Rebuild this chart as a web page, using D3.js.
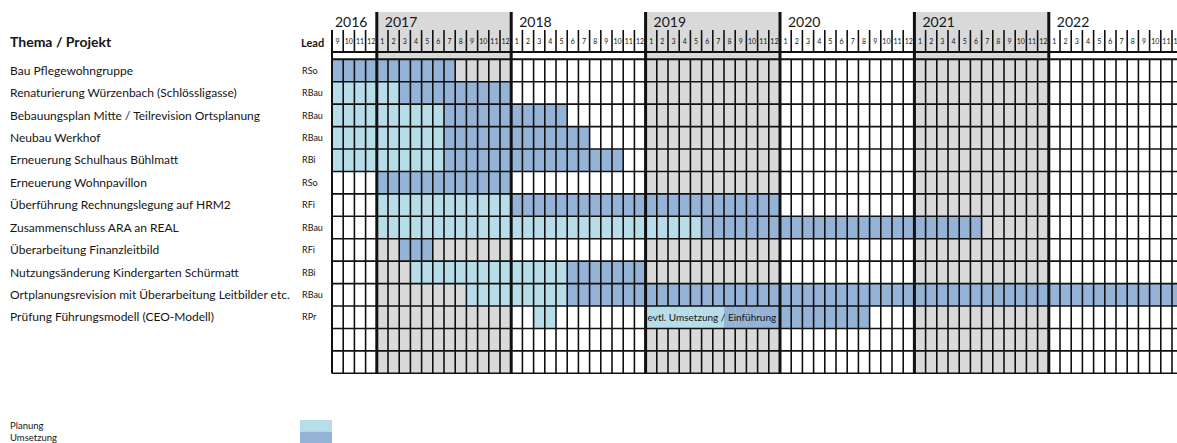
<!DOCTYPE html>
<html>
<head>
<meta charset="utf-8">
<script src="https://cdn.jsdelivr.net/npm/d3@7"></script>
<style>
  body { margin: 0; background: #fff; overflow: hidden; }
  text { font-family: Lato, "Open Sans", sans-serif; fill: #151515; }
</style>
</head>
<body>
<svg id="chart" width="1177" height="443"></svg>
<script>
// --- data ---
var projects = [
  "Bau Pflegewohngruppe",
  "Renaturierung Würzenbach (Schlössligasse)",
  "Bebauungsplan Mitte / Teilrevision Ortsplanung",
  "Neubau Werkhof",
  "Erneuerung Schulhaus Bühlmatt",
  "Erneuerung Wohnpavillon",
  "Überführung Rechnungslegung auf HRM2",
  "Zusammenschluss ARA an REAL",
  "Überarbeitung Finanzleitbild",
  "Nutzungsänderung Kindergarten Schürmatt",
  "Ortplanungsrevision mit Überarbeitung Leitbilder etc.",
  "Prüfung Führungsmodell (CEO-Modell)"
];
var leads = ["RSo", "RBau", "RBau", "RBau", "RBi", "RSo", "RFi", "RBau", "RFi", "RBi", "RBau", "RPr"];
var emptyRows = 2;

var years = [2016, 2017, 2018, 2019, 2020, 2021, 2022];
var shadedYears = [2017, 2019, 2021];
var firstMonth = "2016-09", lastMonth = "2022-12";

// [row, from, to]
var planung = [
  [1, "2016-09", "2017-02"],
  [2, "2016-09", "2017-06"],
  [3, "2016-09", "2017-06"],
  [4, "2016-09", "2017-06"],
  [6, "2017-01", "2017-12"],
  [7, "2017-01", "2019-05"],
  [9, "2017-04", "2018-05"],
  [10, "2017-09", "2018-05"],
  [11, "2018-03", "2018-04"],
  [11, "2019-01", "2019-07"]
];
var umsetzung = [
  [0, "2016-09", "2017-07"],
  [1, "2017-03", "2017-12"],
  [2, "2017-07", "2018-05"],
  [3, "2017-07", "2018-07"],
  [4, "2017-07", "2018-10"],
  [5, "2017-01", "2017-12"],
  [6, "2018-01", "2019-12"],
  [7, "2019-06", "2021-06"],
  [8, "2017-03", "2017-05"],
  [9, "2018-06", "2018-12"],
  [10, "2018-06", "2022-12"],
  [11, "2019-08", "2020-08"]
];
// merged cell with note: [row, from, to, text]
var notes = [[11, "2019-01", "2019-12", "evtl. Umsetzung / Einführung"]];

var legendLabels = ["Planung", "Umsetzung"];
var colors = { plan: "#b7dee8", ums: "#95b3d7", grey: "#d9d9d9", white: "#ffffff" };

// --- layout ---
var svg = d3.select("#chart");
var parse = d3.timeParse("%Y-%m");
var fmt = d3.timeFormat("%Y-%m");
var months = d3.timeMonth.range(parse(firstMonth), d3.timeMonth.offset(parse(lastMonth), 1)).map(fmt);

var gridLeft = 332, colW = 11.2;
var x = d3.scaleBand().domain(months).range([gridLeft, gridLeft + months.length * colW]);
var rowIdx = d3.range(projects.length + emptyRows);
var y = d3.scaleBand().domain(rowIdx).range([59.3, 373.3]);
var gridRight = x.range()[1];
var gridTop = y.range()[0], gridBottom = y.range()[1];
var yearTop = 12, monthTop = 30, monthBottom = 52;

function mIdx(m) { return months.indexOf(m); }
function inSeg(list, r, m) {
  var i = mIdx(m);
  return list.some(function(s) { return s[0] === r && i >= mIdx(s[1]) && i <= mIdx(s[2]); });
}
function isShaded(m) { return shadedYears.indexOf(+m.slice(0, 4)) >= 0; }

// header shading for alternate years
var yearSpan = years.map(function(yr) {
  var ms = months.filter(function(m) { return +m.slice(0, 4) === yr; });
  return { year: yr, x0: x(ms[0]), x1: x(ms[ms.length - 1]) + x.bandwidth() };
});
svg.selectAll(".yshade").data(yearSpan.filter(function(d) { return shadedYears.indexOf(d.year) >= 0; }))
  .enter().append("rect")
  .attr("x", function(d) { return d.x0; })
  .attr("y", yearTop)
  .attr("width", function(d) { return d.x1 - d.x0; })
  .attr("height", gridTop - yearTop)
  .attr("fill", colors.grey);

// cells
var cells = [];
rowIdx.forEach(function(r) {
  months.forEach(function(m) {
    var c = inSeg(umsetzung, r, m) ? colors.ums : inSeg(planung, r, m) ? colors.plan : isShaded(m) ? colors.grey : colors.white;
    cells.push({ r: r, m: m, c: c });
  });
});
svg.append("g").selectAll("rect").data(cells).enter().append("rect")
  .attr("x", function(d) { return x(d.m); })
  .attr("y", function(d) { return y(d.r); })
  .attr("width", x.bandwidth() + 0.3)
  .attr("height", y.bandwidth() + 0.3)
  .attr("fill", function(d) { return d.c; });

// vertical month lines in body (skip those inside merged note cells)
var vlines = [];
rowIdx.forEach(function(r) {
  d3.range(months.length + 1).forEach(function(b) {
    var inside = notes.some(function(n) { return n[0] === r && b > mIdx(n[1]) && b <= mIdx(n[2]); });
    if (!inside) vlines.push({ r: r, b: b });
  });
});
var lines = svg.append("g").attr("stroke", "#111");
lines.selectAll(".v").data(vlines).enter().append("line")
  .attr("x1", function(d) { return gridLeft + d.b * x.step(); })
  .attr("x2", function(d) { return gridLeft + d.b * x.step(); })
  .attr("y1", function(d) { return y(d.r); })
  .attr("y2", function(d) { return y(d.r) + y.bandwidth(); })
  .attr("stroke-width", 1.6);

// header month ticks
lines.selectAll(".hv").data(d3.range(months.length + 1)).enter().append("line")
  .attr("x1", function(b) { return gridLeft + b * x.step(); })
  .attr("x2", function(b) { return gridLeft + b * x.step(); })
  .attr("y1", monthTop).attr("y2", monthBottom)
  .attr("stroke-width", 1.6);

// horizontal lines
lines.selectAll(".h").data(rowIdx.concat([rowIdx.length])).enter().append("line")
  .attr("x1", gridLeft).attr("x2", gridRight)
  .attr("y1", function(r) { return r < rowIdx.length ? y(r) : gridBottom; })
  .attr("y2", function(r) { return r < rowIdx.length ? y(r) : gridBottom; })
  .attr("stroke-width", function(r) { return r === 0 ? 2 : 1.6; });
lines.append("line").attr("x1", gridLeft).attr("x2", gridRight)
  .attr("y1", monthBottom).attr("y2", monthBottom).attr("stroke-width", 2);

// year boundaries
lines.selectAll(".yl").data(yearSpan.slice(1)).enter().append("line")
  .attr("x1", function(d) { return d.x0; }).attr("x2", function(d) { return d.x0; })
  .attr("y1", yearTop).attr("y2", gridBottom)
  .attr("stroke-width", 3);
lines.append("line").attr("x1", gridLeft).attr("x2", gridLeft)
  .attr("y1", monthTop).attr("y2", gridBottom).attr("stroke-width", 2);

// year labels
svg.selectAll(".ylab").data(yearSpan).enter().append("text")
  .attr("x", function(d) { return d.x0 + (d.year === years[0] ? 3 : 8); })
  .attr("y", 27)
  .attr("font-size", 14)
  .text(function(d) { return d.year; });

// month labels
svg.selectAll(".mlab").data(months).enter().append("text")
  .attr("x", function(m) { return x(m) + x.bandwidth() / 2; })
  .attr("y", 44)
  .attr("text-anchor", "middle")
  .attr("font-size", 7)
  .text(function(m) { return +m.slice(5); });

// note in merged cell
svg.selectAll(".note").data(notes).enter().append("text")
  .attr("x", function(d) { return x(d[1]) + 2; })
  .attr("y", function(d) { return y(d[0]) + y.bandwidth() / 2; })
  .attr("dy", "0.35em")
  .attr("font-size", 10)
  .text(function(d) { return d[3]; });

// left labels
svg.append("text").attr("x", 10).attr("y", 42).attr("dy", "0.35em")
  .attr("font-size", 14).attr("font-weight", "bold").text("Thema / Projekt");
svg.append("text").attr("x", 301).attr("y", 43).attr("dy", "0.35em")
  .attr("font-size", 11).attr("font-weight", "bold").text("Lead");

svg.selectAll(".plab").data(projects).enter().append("text")
  .attr("x", 10)
  .attr("y", function(d, i) { return y(i) + y.bandwidth() / 2; })
  .attr("dy", "0.35em")
  .attr("font-size", 12)
  .text(function(d) { return d; });
svg.selectAll(".llab").data(leads).enter().append("text")
  .attr("x", 302)
  .attr("y", function(d, i) { return y(i) + y.bandwidth() / 2; })
  .attr("dy", "0.35em")
  .attr("font-size", 9)
  .text(function(d) { return d; });

// legend
var legY = d3.scaleBand().domain(legendLabels).range([420, 443]);
svg.selectAll(".legtxt").data(legendLabels).enter().append("text")
  .attr("x", 10)
  .attr("y", function(d) { return legY(d) + legY.bandwidth() / 2; })
  .attr("dy", "0.35em")
  .attr("font-size", 9.5)
  .text(function(d) { return d; });
svg.selectAll(".legbox").data(legendLabels).enter().append("rect")
  .attr("x", 300).attr("width", 32)
  .attr("y", function(d) { return legY(d); })
  .attr("height", legY.bandwidth())
  .attr("fill", function(d, i) { return i === 0 ? colors.plan : colors.ums; });
</script>
</body>
</html>
